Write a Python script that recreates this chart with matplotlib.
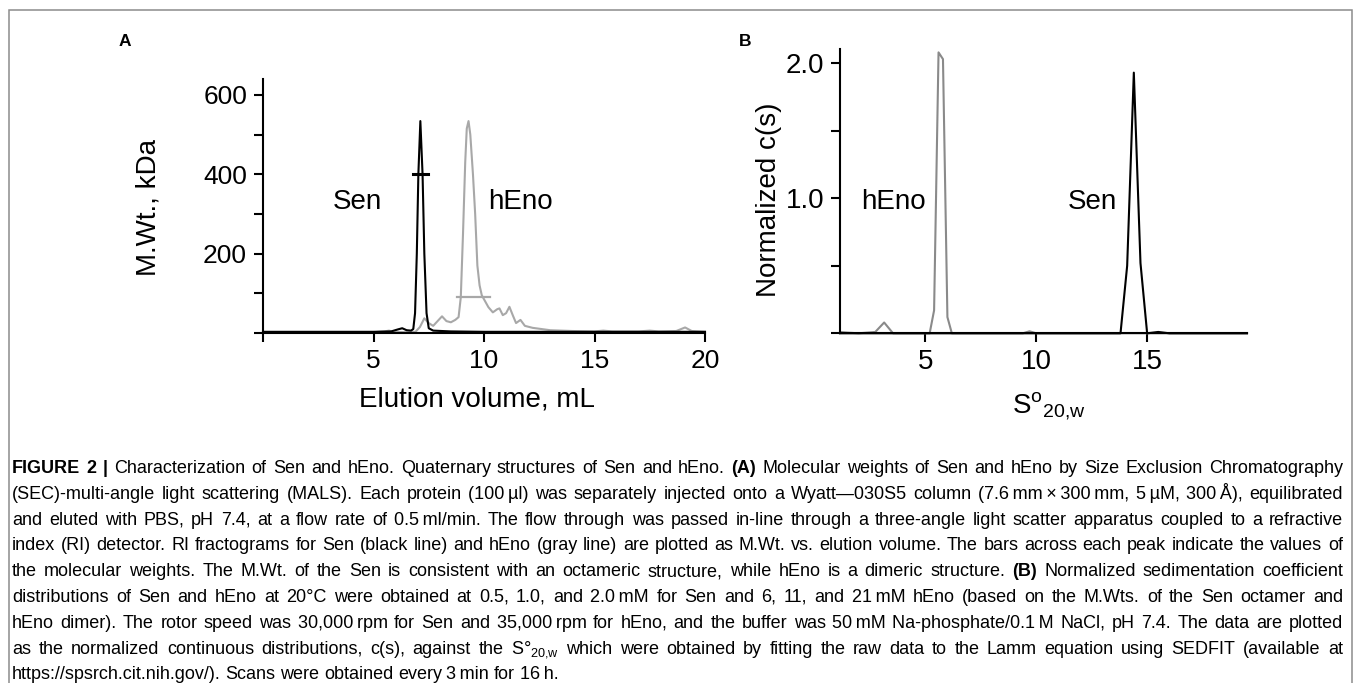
import matplotlib
matplotlib.use('Agg')
import matplotlib.pyplot as plt
from matplotlib.patches import Rectangle

plt.rcParams['font.family'] = ['Liberation Sans', 'DejaVu Sans']
plt.rcParams['mathtext.fontset'] = 'custom'
plt.rcParams['mathtext.rm'] = 'Liberation Sans'
plt.rcParams['mathtext.it'] = 'Liberation Sans:italic'
plt.rcParams['mathtext.bf'] = 'Liberation Sans:bold'

# Panel A: SEC-MALS fractograms, elution volume (mL) vs M.Wt. (kDa)
sen_vol = [0.0, 5.0, 5.8, 6.1, 6.3, 6.5, 6.7, 6.8, 6.88, 6.96, 7.03, 7.12, 7.22, 7.3, 7.4, 7.5, 7.7, 8.5, 10.0, 13.0, 20.0]
sen_mw = [3, 3, 4, 9, 12, 7, 6, 10, 50, 200, 400, 534, 400, 200, 50, 12, 6, 4, 3, 3, 3]
heno_vol = [0.0, 5.0, 5.5, 5.7, 5.9, 6.5, 6.9, 7.1, 7.3, 7.5, 7.7, 7.9, 8.1, 8.3, 8.5,
            8.7, 8.85, 8.95, 9.05, 9.15, 9.22, 9.3, 9.38, 9.5, 9.6, 9.7, 9.8, 9.9, 10.0, 10.2,
            10.4, 10.6, 10.7, 10.85, 11.0, 11.15, 11.3, 11.45, 11.65, 11.85, 12.2, 12.6, 13.0, 14.0, 15.0,
            15.4, 15.8, 17.0, 17.5, 17.9, 18.7, 19.1, 19.4, 20.0]
heno_mw = [2, 2, 4, 6, 3, 2, 3, 15, 37, 25, 18, 30, 42, 30, 27,
           33, 40, 90, 250, 430, 515, 534, 500, 400, 300, 170, 120, 95, 85, 65,
           52, 60, 62, 45, 50, 66, 45, 25, 33, 18, 13, 10, 7, 5, 4,
           6, 4, 4, 6, 4, 5, 14, 5, 3]
# bars across each peak = measured molecular weight
sen_bar_vol = [6.77, 7.45]
sen_bar_mw = 401
heno_bar_vol = [8.78, 10.27]
heno_bar_mw = 91

# Panel B: normalized c(s) distributions vs S°20,w
heno_s = [1.16, 1.5, 2.0, 2.75, 3.15, 3.55, 5.2, 5.4, 5.6, 5.8, 6.0, 6.2, 9.4, 9.7, 10.0, 19.5]
heno_c = [0.01, 0.005, 0.0, 0.01, 0.08, 0.0, 0.0, 0.17, 2.08, 2.03, 0.12, 0.0, 0.0, 0.015, 0.0, 0.0]
sen_s = [1.16, 13.8, 14.1, 14.4, 14.7, 15.0, 15.5, 16.0, 19.5]
sen_c = [0.0, 0.0, 0.5, 1.93, 0.52, 0.0, 0.01, 0.0, 0.0]

a_xticks = [0, 5, 10, 15, 20]
a_xlabels = ['', '5', '10', '15', '20']
a_yticks = [0, 100, 200, 300, 400, 500, 600]
a_ylabels = ['', '', '200', '', '400', '', '600']
b_xticks = [5, 10, 15]
b_xlabels = ['5', '10', '15']
b_yticks = [0, 0.5, 1.0, 1.5, 2.0]
b_ylabels = ['', '', '1.0', '', '2.0']

caption_lines = [
    [("FIGURE 2 |", True), ("Characterization of Sen and hEno. Quaternary structures of Sen and hEno.", False),
     ("(A)", True), ("Molecular weights of Sen and hEno by Size Exclusion Chromatography", False)],
    [("(SEC)-multi-angle light scattering (MALS). Each protein (100\u2009\u00b5l) was separately injected onto a "
      "Wyatt\u2014030S5 column (7.6\u2009mm\u2009\u00d7\u2009300\u2009mm, 5\u2009\u00b5M, 300\u2009\u00c5), equilibrated", False)],
    [("and eluted with PBS, pH 7.4, at a flow rate of 0.5\u2009ml/min. The flow through was passed in-line through "
      "a three-angle light scatter apparatus coupled to a refractive", False)],
    [("index (RI) detector. RI fractograms for Sen (black line) and hEno (gray line) are plotted as M.Wt. vs. "
      "elution volume. The bars across each peak indicate the values of", False)],
    [("the molecular weights. The M.Wt. of the Sen is consistent with an octameric structure, while hEno is a "
      "dimeric structure.", False), ("(B)", True), ("Normalized sedimentation coefficient", False)],
    [("distributions of Sen and hEno at 20\u00b0C were obtained at 0.5, 1.0, and 2.0\u2009mM for Sen and 6, 11, "
      "and 21\u2009mM hEno (based on the M.Wts. of the Sen octamer and", False)],
    [("hEno dimer). The rotor speed was 30,000\u2009rpm for Sen and 35,000\u2009rpm for hEno, and the buffer was "
      "50\u2009mM Na-phosphate/0.1\u2009M NaCl, pH 7.4. The data are plotted", False)],
    [("as the normalized continuous distributions, c(s), against the", False),
     ("S\u00b0$_{\\mathrm{20{,}w}}$", False),
     ("which were obtained by fitting the raw data to the Lamm equation using SEDFIT (available at", False)],
    [("https://spsrch.cit.nih.gov/). Scans were obtained every 3\u2009min for 16\u2009h.", False)],
]

W, H = 1355, 683
fig = plt.figure(figsize=(W / 100, H / 100), dpi=100)


def px_axes(x0, y0, x1, y1):
    return fig.add_axes([x0 / W, 1 - y1 / H, (x1 - x0) / W, (y1 - y0) / H])


def style(ax, size):
    for s in ['top', 'right']:
        ax.spines[s].set_visible(False)
    for s in ['left', 'bottom']:
        ax.spines[s].set_linewidth(1.5)
    ax.tick_params(width=1.5, length=6.5, direction='out', labelsize=size, pad=5)


# outer frame
fig.add_artist(Rectangle((9 / W, -0.2), (1352 - 9) / W, 1.2 - 10 / H, transform=fig.transFigure,
                         fill=False, edgecolor='#8c8c8c', lw=1.1))

# ---- panel A
axA = px_axes(263, 79, 705, 333)
axA.plot(heno_vol, heno_mw, color='#a8a8a8', lw=1.5, clip_on=False)
axA.plot(sen_vol, sen_mw, color='black', lw=1.5, clip_on=False)
axA.plot(heno_bar_vol, [heno_bar_mw] * 2, color='#a8a8a8', lw=1.6)
axA.plot(sen_bar_vol, [sen_bar_mw] * 2, color='black', lw=2.2)
axA.set_xlim(0, 20)
axA.set_ylim(0, 640)
style(axA, 19)
axA.set_xticks(a_xticks, a_xlabels)
axA.set_yticks(a_yticks, a_ylabels)
axA.set_xticks([20], minor=True)
axA.tick_params(axis='x', which='minor', direction='in', length=6.5, width=1.5)
axA.set_xlabel('Elution volume, mL', fontsize=20)
axA.set_ylabel('M.Wt., kDa', fontsize=20)
axA.xaxis.set_label_coords(0.485, -0.21)
axA.yaxis.set_label_coords(-0.229, 0.494)
axA.text(4.25, 330, 'Sen', fontsize=20, ha='center', va='center')
axA.text(10.2, 330, 'hEno', fontsize=20, ha='left', va='center')
fig.text(125 / W, 1 - 42 / H, 'A', fontsize=12.5, fontweight='bold', ha='center', va='center')

# ---- panel B
axB = px_axes(840, 49, 1247, 333.3)
axB.plot(heno_s, heno_c, color='#8a8a8a', lw=1.5, clip_on=False)
axB.plot(sen_s, sen_c, color='black', lw=1.5, clip_on=False)
axB.set_xlim(1.16, 19.5)
axB.set_ylim(0, 2.105)
style(axB, 20)
axB.set_xticks(b_xticks, b_xlabels)
axB.set_yticks(b_yticks, b_ylabels)
axB.set_xlabel(r'S$^{\mathrm{o}}$$_{\mathrm{20{,}w}}$', fontsize=20)
axB.set_ylabel('Normalized c(s)', fontsize=20)
axB.xaxis.set_label_coords(0.512, -0.2)
axB.yaxis.set_label_coords(-0.143, 0.469)
axB.text(3.55, 0.97, 'hEno', fontsize=20, ha='center', va='center')
axB.text(12.55, 0.97, 'Sen', fontsize=20, ha='center', va='center')
fig.text(745 / W, 1 - 42 / H, 'B', fontsize=12.5, fontweight='bold', ha='center', va='center')

# ---- caption, justified between cap_left and cap_right
cap_left, cap_right = 12, 1343
cap_base = 473
cap_step = 25.8
cap_size = 13
cap_family = ['Liberation Sans Narrow', 'Liberation Sans', 'DejaVu Sans']

renderer = fig.canvas.get_renderer()
rows = []
for line in caption_lines:
    words = []
    for seg, bold in line:
        for w in seg.split(' '):
            if w:
                words.append((w, bold))
    rows.append(words)

all_texts = []
for words in rows:
    ts = [fig.text(0, 0, w, fontsize=cap_size, fontweight='bold' if b else 'normal',
                   family=cap_family, ha='left', va='baseline') for w, b in words]
    all_texts.append(ts)

space = 0.26 * cap_size * 100 / 72
widths = [[t.get_window_extent(renderer).width for t in ts] for ts in all_texts]
avail = cap_right - cap_left
natural = max(sum(ws) + space * (len(ws) - 1) for ws in widths)
scale = min(1.0, avail / natural)
if scale < 1.0:
    for ts in all_texts:
        for t in ts:
            t.set_fontsize(cap_size * scale)
    widths = [[t.get_window_extent(renderer).width for t in ts] for ts in all_texts]
    space *= scale

for i, (ts, ws) in enumerate(zip(all_texts, widths)):
    last = i == len(all_texts) - 1
    gap = space if last or len(ts) < 2 else (avail - sum(ws)) / (len(ts) - 1)
    x = cap_left
    y = cap_base + i * cap_step
    for t, w in zip(ts, ws):
        t.set_position((x / W, 1 - y / H))
        x += w + gap

fig.savefig('out.png', dpi=100, facecolor='white')
